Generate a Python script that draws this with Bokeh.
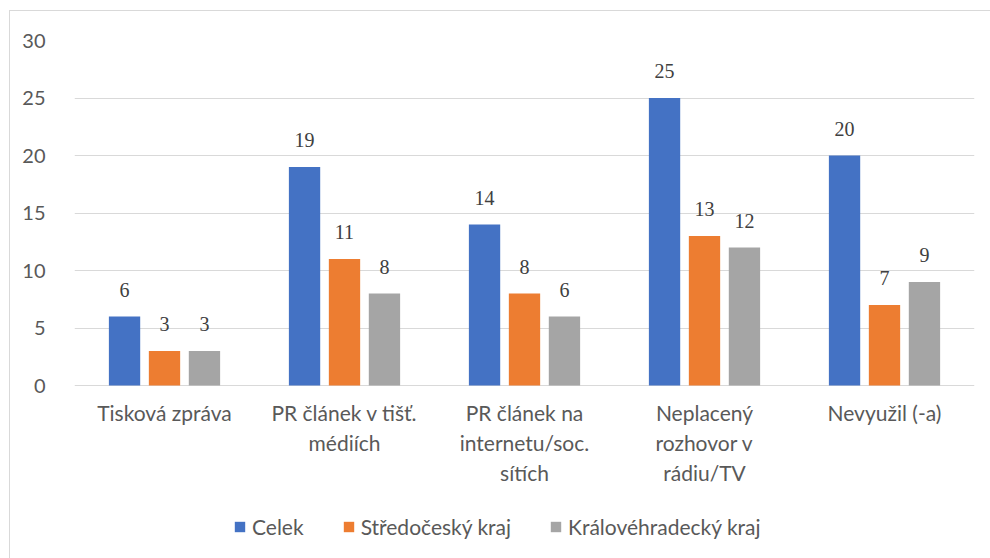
from bokeh.plotting import figure
from bokeh.models import ColumnDataSource, FactorRange, Range1d, Legend, LegendItem, LabelSet, FixedTicker
from bokeh.core.properties import value
from bokeh.transform import dodge
from bokeh.embed import file_html
from bokeh.resources import INLINE

categories = ["Tisková zpráva", "PR článek v tišť.\nmédiích", "PR článek na\ninternetu/soc.\nsítích",
              "Neplacený\nrozhovor v\nrádiu/TV", "Nevyužil (-a)"]
celek = [6, 19, 14, 25, 20]
stredocesky = [3, 11, 8, 13, 7]
kralovehradecky = [3, 8, 6, 12, 9]
series_names = ["Celek", "Středočeský kraj", "Královéhradecký kraj"]
colors = ["#4472C4", "#ED7D31", "#A5A5A5"]
y_ticks = [0, 5, 10, 15, 20, 25, 30]

FONT = "Lato"
FS = "20px"
FS_TXT = "21px"
src = ColumnDataSource(dict(cat=categories, a=celek, b=stredocesky, c=kralovehradecky,
                            la=[str(v) for v in celek], lb=[str(v) for v in stredocesky],
                            lc=[str(v) for v in kralovehradecky], zero=[0] * len(categories)))

# frame extends below the value axis to host category labels and legend
Y_MAX = 30
PX_PER_UNIT = 345 / Y_MAX
Y_MIN = -172 / PX_PER_UNIT

p = figure(x_range=FactorRange(*categories, range_padding=0), y_range=Range1d(Y_MIN, Y_MAX),
           frame_width=900, frame_height=517,
           min_border_left=64, min_border_right=16, min_border_top=29, min_border_bottom=1,
           output_backend="svg", toolbar_location=None)
p.margin = (10, 0, 0, 9)
p.styles = {"border-left": "1px solid #d9d9d9", "border-top": "1px solid #d9d9d9"}
p.outline_line_color = None
p.background_fill_color = "white"

offsets = [-0.222, 0.0, 0.222]
cols = ["a", "b", "c"]
lcols = ["la", "lb", "lc"]
items = []
for off, col, lc, color, name in zip(offsets, cols, lcols, colors, series_names):
    r = p.vbar(x=dodge("cat", off, range=p.x_range), top=col, width=0.174, source=src,
               fill_color=color, line_color=None)
    items.append(LegendItem(label=name, renderers=[r]))
    labels = LabelSet(x=dodge("cat", off, range=p.x_range), y=col, text=lc, source=src,
                      text_align="center", text_baseline="alphabetic", y_offset=20,
                      text_font=FONT, text_font_size=FS, text_color="#404040")
    p.add_layout(labels)

# category labels under the zero line
p.text(x="cat", y="zero", text="cat", source=src, text_align="center", text_baseline="top",
       y_offset=14, text_font=value(FONT), text_font_size=FS_TXT, text_color="#595959",
       text_line_height=1.2)

p.yaxis.ticker = FixedTicker(ticks=y_ticks)
p.yaxis.axis_line_color = None
p.yaxis.major_tick_line_color = None
p.yaxis.minor_tick_line_color = None
p.yaxis.major_label_text_font = FONT
p.yaxis.major_label_text_font_size = FS
p.yaxis.major_label_text_color = "#595959"
p.yaxis.major_label_standoff = 23

p.xaxis.visible = False
p.xgrid.grid_line_color = None
p.ygrid.grid_line_color = "#d9d9d9"
p.ygrid.ticker = FixedTicker(ticks=y_ticks)

legend = Legend(items=items, orientation="horizontal", location=(159, 18),
                label_text_font=FONT, label_text_font_size=FS_TXT, label_text_color="#595959",
                glyph_width=13, glyph_height=13, label_height=20, spacing=38, label_standoff=6,
                border_line_color=None, background_fill_alpha=0, margin=0, padding=0)
p.add_layout(legend, "center")

open("out.html", "w").write(file_html(p, INLINE))
